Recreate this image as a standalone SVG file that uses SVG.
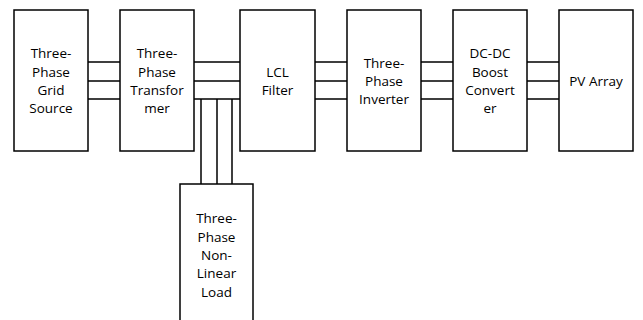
<svg xmlns="http://www.w3.org/2000/svg" width="643" height="320" viewBox="0 0 643 320">
<style>
.box{fill:#fff;stroke:#000;stroke-width:1.5}
.w{stroke:#000;stroke-width:1.5;fill:none}
text{font-family:"Open Sans","Liberation Sans",sans-serif;font-size:13.5px;fill:#000;text-anchor:middle}
</style>
<rect width="643" height="320" fill="#fff"/>
<g id="connectors">
<path class="w" d="M88 62H120M88 81H120M88 99H120"/>
<path class="w" d="M194 62H240M194 81H240M194 99H240"/>
<path class="w" d="M201 99V184M217 99V184M232 99V184"/>
<path class="w" d="M315 62H347M315 81H347M315 99H347"/>
<path class="w" d="M421 62H453M421 81H453M421 99H453"/>
<path class="w" d="M527 62H559M527 81H559M527 99H559"/>
</g>
<g id="grid">
<rect class="box" x="14" y="10" width="74" height="141"/>
<text x="51" y="58">Three-</text><text x="51" y="77">Phase</text><text x="51" y="95">Grid</text><text x="51" y="113">Source</text>
</g>
<g id="transformer">
<rect class="box" x="120" y="10" width="74" height="141"/>
<text x="157" y="58">Three-</text><text x="157" y="77">Phase</text><text x="157" y="95">Transfor</text><text x="157" y="113">mer</text>
</g>
<g id="lcl">
<rect class="box" x="240" y="10" width="75" height="141"/>
<text x="277.5" y="77">LCL</text><text x="277.5" y="95">Filter</text>
</g>
<g id="inverter">
<rect class="box" x="347" y="10" width="74" height="141"/>
<text x="384" y="68">Three-</text><text x="384" y="86">Phase</text><text x="384" y="104">Inverter</text>
</g>
<g id="boost">
<rect class="box" x="453" y="10" width="74" height="141"/>
<text x="490" y="58">DC-DC</text><text x="490" y="77">Boost</text><text x="490" y="95">Convert</text><text x="490" y="113">er</text>
</g>
<g id="pv">
<rect class="box" x="559" y="10" width="74" height="141"/>
<text x="596" y="86">PV Array</text>
</g>
<g id="load">
<rect class="box" x="180" y="184" width="73" height="150"/>
<text x="216.5" y="223">Three-</text><text x="216.5" y="242">Phase</text><text x="216.5" y="260">Non-</text><text x="216.5" y="278">Linear</text><text x="216.5" y="297">Load</text>
</g>
</svg>
